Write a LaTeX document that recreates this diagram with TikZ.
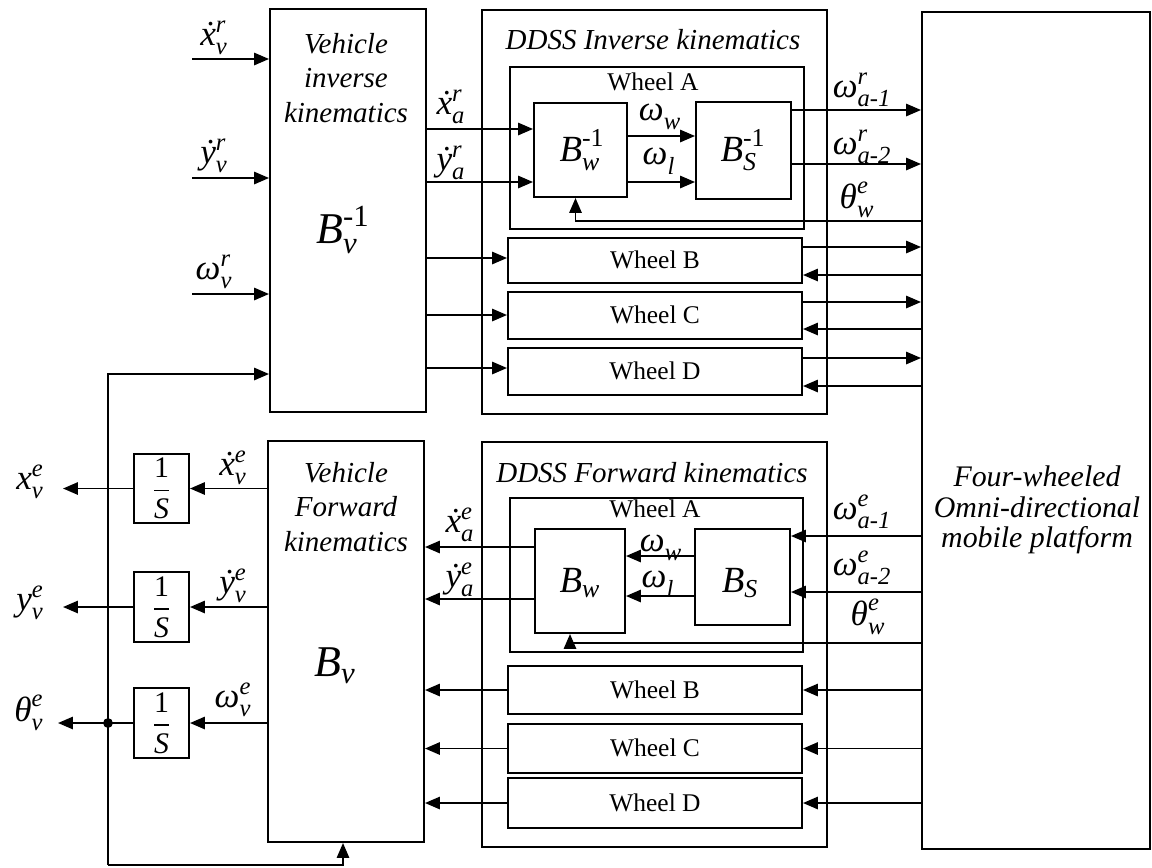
\documentclass[tikz,border=0pt]{standalone}
\usepackage{amsmath}
\usepackage{fontspec}
\setmainfont{Liberation Serif}
\usetikzlibrary{arrows.meta,fit}
\newcommand{\sym}[3]{$\textit{#1}^{\textit{#2}}_{\textit{#3}}$}
\begin{document}
\begin{tikzpicture}[x=0.02cm,y=-0.02cm,
  blk/.style={draw, line width=1.1pt, inner sep=0pt},
  arr/.style={-{Triangle[length=8.5pt,width=7pt]}, line width=1.1pt},
  ln/.style={line width=1.1pt},
  lab/.style={font=\fontsize{20}{22}\selectfont, inner sep=0pt},
  frc/.style={font=\fontsize{17}{19}\selectfont, inner sep=0pt},
  wtxt/.style={font=\fontsize{14.5}{16}\selectfont, inner sep=0pt},
  ttl/.style={font=\fontsize{16.5}{20}\selectfont\itshape, inner sep=0pt, align=center},
  big/.style={font=\fontsize{25}{28}\selectfont, inner sep=0pt},
  mid/.style={font=\fontsize{21}{24}\selectfont, inner sep=0pt}]
\useasboundingbox (0,0) rectangle (1152,867);
% ---------------- blocks (upper) ----------------
\node[blk, fit={(270,9)(426,412)}] (vik) {};
\node[blk, fit={(482,10)(827,414)}] (ddssI) {};
\node[blk, fit={(510,67)(804,229)}] (wAI) {};
\node[blk, fit={(534,103)(627,197)}] (bwI) {};
\node[blk, fit={(696,102)(791,199)}] (bsI) {};
\node[blk, fit={(508,238)(802,283)}] (wBI) {};
\node[blk, fit={(508,292)(802,339)}] (wCI) {};
\node[blk, fit={(508,348)(802,395)}] (wDI) {};
\node[blk, fit={(922,12)(1150,849)}] (plat) {};
% ---------------- blocks (lower) ----------------
\node[blk, fit={(268,441)(424,842)}] (vfk) {};
\node[blk, fit={(482,442)(827,847)}] (ddssF) {};
\node[blk, fit={(510,498)(803,652)}] (wAF) {};
\node[blk, fit={(535,529)(625,633)}] (bwF) {};
\node[blk, fit={(695,529)(790,625)}] (bsF) {};
\node[blk, fit={(508,666)(802,714)}] (wBF) {};
\node[blk, fit={(508,724)(802,773)}] (wCF) {};
\node[blk, fit={(508,778)(802,828)}] (wDF) {};
\node[blk, fit={(134,454)(189,523)}] (int1) {};
\node[blk, fit={(134,572)(189,642)}] (int2) {};
\node[blk, fit={(134,688)(189,758)}] (int3) {};
% ---------------- texts in blocks ----------------
\node[ttl, font=\fontsize{16.5}{19.8}\selectfont\itshape] (tvik) at (346,78) {Vehicle\\inverse\\kinematics};
\node[big] (tBvi) at (343,230) {$\textit{B}^{\textup{-1}}_{\textit{v}}$};
\node[ttl] (tddssI) at (653,40) {DDSS Inverse kinematics};
\node[wtxt] (twAI) at (653,82) {Wheel A};
\node[mid] (tbwI) at (582,150) {$\textit{B}^{\textup{-1}}_{\textit{w}}$};
\node[mid] (tbsI) at (743,150) {$\textit{B}^{\textup{-1}}_{\textit{S}}$};
\node[wtxt] (twBI) at (655,260) {Wheel B};
\node[wtxt] (twCI) at (655,315) {Wheel C};
\node[wtxt] (twDI) at (655,371) {Wheel D};
\node[ttl, font=\fontsize{17}{17.2}\selectfont\itshape] (tplat) at (1037,510) {Four-wheeled\\Omni-directional\\mobile platform};
\node[ttl, font=\fontsize{16.5}{19.8}\selectfont\itshape] (tvfk) at (346,507) {Vehicle\\Forward\\kinematics};
\node[big] (tBv) at (335,666) {$\textit{B}_{\textit{v}}$};
\node[ttl] (tddssF) at (652,473) {DDSS Forward kinematics};
\node[wtxt] (twAF) at (655,509) {Wheel A};
\node[mid] (tbwF) at (580,583) {$\textit{B}_{\textit{w}}$};
\node[mid] (tbsF) at (740,583) {$\textit{B}_{\textit{S}}$};
\node[wtxt] (twBF) at (655,690) {Wheel B};
\node[wtxt] (twCF) at (655,748) {Wheel C};
\node[wtxt] (twDF) at (655,803) {Wheel D};
\node[frc] (ti1) at (int1.center) {$\dfrac{\text{1}}{\textit{S}}$};
\node[frc] (ti2) at (int2.center) {$\dfrac{\text{1}}{\textit{S}}$};
\node[frc] (ti3) at (int3.center) {$\dfrac{\text{1}}{\textit{S}}$};
% ---------------- signal labels ----------------
\node[lab] (lxvr) at (214,38) {\sym{\.x}{r}{v}};
\node[lab] (lyvr) at (214,156) {\sym{\.y}{r}{v}};
\node[lab] (lwvr) at (214,272) {\sym{ω}{r}{v}};
\node[lab] (lxar) at (451,107) {\sym{\.x}{r}{a}};
\node[lab] (lyar) at (451,163) {\sym{\.y}{r}{a}};
\node[lab] (lww1) at (660,117) {\sym{ω}{}{w}};
\node[lab] (lwl1) at (659,161) {\sym{ω}{}{l}};
\node[lab] (lwa1r) at (862,90) {\sym{ω}{r}{a-1}};
\node[lab] (lwa2r) at (862,147) {\sym{ω}{r}{a-2}};
\node[lab] (lthI) at (857,200) {\sym{θ}{e}{w}};
\node[lab] (lxve) at (233,468) {\sym{\.x}{e}{v}};
\node[lab] (lyve) at (233,586) {\sym{\.y}{e}{v}};
\node[lab] (lwve) at (233,700) {\sym{ω}{e}{v}};
\node[lab] (lxo) at (30,482) {\sym{x}{e}{v}};
\node[lab] (lyo) at (30,603) {\sym{y}{e}{v}};
\node[lab] (lto) at (29,713) {\sym{θ}{e}{v}};
\node[lab] (lxae) at (460,525) {\sym{\.x}{e}{a}};
\node[lab] (lyae) at (460,580) {\sym{\.y}{e}{a}};
\node[lab] (lww2) at (661,548) {\sym{ω}{}{w}};
\node[lab] (lwl2) at (658,584) {\sym{ω}{}{l}};
\node[lab] (lwa1e) at (862,512) {\sym{ω}{e}{a-1}};
\node[lab] (lwa2e) at (862,568) {\sym{ω}{e}{a-2}};
\node[lab] (lthF) at (868,617) {\sym{θ}{e}{w}};
% ---------------- free ends ----------------
\coordinate (in1) at (192,59);
\coordinate (in2) at (192,178);
\coordinate (in3) at (192,294);
\coordinate (dot) at (108,723);
\coordinate (fbc) at (108,865);
% ---------------- connectors (upper) ----------------
\draw[arr] (in1) -- (vik.west |- in1);
\draw[arr] (in2) -- (vik.west |- in2);
\draw[arr] (in3) -- (vik.west |- in3);
\draw[arr] (dot) |- (vik.west |- 0,374);
\draw[arr] (vik.east |- 0,129) -- (bwI.west |- 0,129);
\draw[arr] (vik.east |- 0,182) -- (bwI.west |- 0,182);
\draw[arr] (vik.east |- 0,258) -- (wBI.west |- 0,258);
\draw[arr] (vik.east |- 0,315) -- (wCI.west |- 0,315);
\draw[arr] (vik.east |- 0,368) -- (wDI.west |- 0,368);
\draw[arr] (bwI.east |- 0,136) -- (bsI.west |- 0,136);
\draw[arr] (bwI.east |- 0,182) -- (bsI.west |- 0,182);
\draw[arr] (bsI.east |- 0,110) -- (plat.west |- 0,110);
\draw[arr] (bsI.east |- 0,164) -- (plat.west |- 0,164);
\draw[arr] (plat.west |- 0,221) -| ([xshift=-0.1cm]bwI.south);
\draw[arr] (wBI.east |- 0,247) -- (plat.west |- 0,247);
\draw[arr] (plat.west |- 0,275) -- (wBI.east |- 0,275);
\draw[arr] (wCI.east |- 0,302) -- (plat.west |- 0,302);
\draw[arr] (plat.west |- 0,329) -- (wCI.east |- 0,329);
\draw[arr] (wDI.east |- 0,358) -- (plat.west |- 0,358);
\draw[arr] (plat.west |- 0,386) -- (wDI.east |- 0,386);
% ---------------- connectors (lower) ----------------
\draw[arr] (vfk.west |- int1.east) -- (int1.east);
\draw[arr] (vfk.west |- int2.east) -- (int2.east);
\draw[arr] (vfk.west |- int3.east) -- (int3.east);
\draw[arr] (int1.west) -- (int1.west -| 63,0);
\draw[arr] (int2.west) -- (int2.west -| 63,0);
\draw[arr] (int3.west) -- (int3.west -| 58,0);
\fill (dot) circle (2.8pt);
\draw[ln] (dot) -- (fbc);
\draw[arr] (fbc) -| ([xshift=-0.06cm]vfk.south);
\draw[arr] (bwF.west |- 0,547) -- (vfk.east |- 0,547);
\draw[arr] (bwF.west |- 0,599) -- (vfk.east |- 0,599);
\draw[arr] (bsF.west |- 0,556) -- (bwF.east |- 0,556);
\draw[arr] (bsF.west |- 0,596) -- (bwF.east |- 0,596);
\draw[arr] (plat.west |- 0,536) -- (bsF.east |- 0,536);
\draw[arr] (plat.west |- 0,592) -- (bsF.east |- 0,592);
\draw[arr] (plat.west |- 0,643) -| ([xshift=-0.2cm]bwF.south);
\draw[arr] (plat.west |- wBF.east) -- (wBF.east);
\draw[arr] (plat.west |- wCF.east) -- (wCF.east);
\draw[arr] (plat.west |- wDF.east) -- (wDF.east);
\draw[arr] (wBF.west) -- (vfk.east |- wBF.west);
\draw[arr] (wCF.west) -- (vfk.east |- wCF.west);
\draw[arr] (wDF.west) -- (vfk.east |- wDF.west);
\end{tikzpicture}
\end{document}
